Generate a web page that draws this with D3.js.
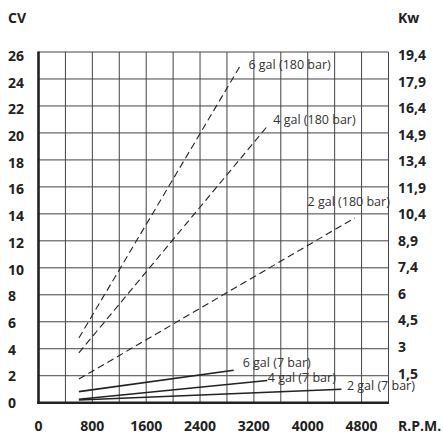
<!DOCTYPE html>
<html>
<head>
<meta charset="utf-8">
<script src="https://cdn.jsdelivr.net/npm/d3@7"></script>
<style>
  body { margin: 0; background: #fff; }
  svg { display: block; font-family: "Open Sans", sans-serif; }
  .lab { font-size: 14px; font-weight: bold; fill: #222; }
  .curve-label { font-size: 12.5px; fill: #333; }
</style>
</head>
<body>
<svg id="chart"></svg>
<script>
// chart values
const rpmTicks = [0, 800, 1600, 2400, 3200, 4000, 4800];
const rpmGrid = [0, 400, 800, 1200, 1600, 2000, 2400, 2800, 3200, 3600, 4000, 4400, 4800, 5200];
const cvTicks = [0, 2, 4, 6, 8, 10, 12, 14, 16, 18, 20, 22, 24, 26];
const kwLabels = ["", "1,5", "3", "4,5", "6", "7,4", "8,9", "10,4", "11,9", "13,4", "14,9", "16,4", "17,9", "19,4"];

const seriesNames = ["6 gal (180 bar)", "4 gal (180 bar)", "2 gal (180 bar)",
                     "6 gal (7 bar)", "4 gal (7 bar)", "2 gal (7 bar)"];
const seriesRpm = [[600, 3000], [600, 3400], [600, 4700], [600, 2900], [600, 3400], [600, 4500]];
const seriesCv = [[4.8, 25], [3.7, 20.5], [1.75, 13.7], [0.82, 2.4], [0.25, 1.65], [0.2, 1.0]];
const seriesDashed = [true, true, true, false, false, false];

// label placement relative to the end of each curve (style only)
const labelDx = [8, 6, 35, 9, 0.5, 5.5];
const labelDy = [4, -2, -12, -3.5, 1.5, 1];
const labelAnchor = ["start", "start", "end", "start", "start", "start"];

const W = 443, H = 435;
const svg = d3.select("#chart").attr("width", W).attr("height", H);

let x = d3.scaleLinear().domain([0, 5200]).range([38.5, 388.5]);
let y = d3.scaleLinear().domain([0, 26]).range([402.7, 52]);
// tick labels in the original sit on a slightly tighter spacing than the grid
let yLeftLab = d3.scaleLinear().domain([0, 26]).range([403, 56]);
let yRightLab = d3.scaleLinear().domain([2, 26]).range([373.5, 55]);

// grid
svg.append("g").selectAll("line").data(rpmGrid).enter().append("line")
  .attr("x1", d => x(d)).attr("x2", d => x(d))
  .attr("y1", y(0)).attr("y2", y(26))
  .attr("stroke", "#444").attr("stroke-width", 1);

svg.append("g").selectAll("line").data(cvTicks).enter().append("line")
  .attr("x1", x(0)).attr("x2", x(5200))
  .attr("y1", d => y(d)).attr("y2", d => y(d))
  .attr("stroke", "#444").attr("stroke-width", 1);

// heavy axes
svg.append("line").attr("x1", x(0)).attr("x2", x(0)).attr("y1", y(26) - 0.5).attr("y2", y(0) + 1.3)
  .attr("stroke", "#222").attr("stroke-width", 2.6);
svg.append("line").attr("x1", x(0) - 1.3).attr("x2", x(5200) + 0.5).attr("y1", y(0)).attr("y2", y(0))
  .attr("stroke", "#222").attr("stroke-width", 2.6);

// left labels
svg.append("g").selectAll("text").data(cvTicks).enter().append("text")
  .attr("class", "lab").attr("x", 8).attr("y", d => yLeftLab(d) + 5)
  .text(d => d);

// right labels
svg.append("g").selectAll("text").data(cvTicks).enter().append("text")
  .attr("class", "lab").attr("x", 398).attr("y", d => yRightLab(d) + 5)
  .text((d, i) => kwLabels[i]);

// bottom labels
svg.append("g").selectAll("text").data(rpmTicks).enter().append("text")
  .attr("class", "lab").attr("x", d => x(d)).attr("y", 430.5)
  .attr("text-anchor", "middle")
  .text(d => d);

svg.append("text").attr("class", "lab").attr("x", 398).attr("y", 430.5).text("R.P.M.");
svg.append("text").attr("class", "lab").attr("x", 8).attr("y", 23).text("CV");
svg.append("text").attr("class", "lab").attr("x", 398).attr("y", 23).text("Kw");

// curves
let line = d3.line().x(d => x(d[0])).y(d => y(d[1]));

seriesNames.forEach(function(name, i) {
  let pts = seriesRpm[i].map((r, j) => [r, seriesCv[i][j]]);
  svg.append("path")
    .attr("d", line(pts))
    .attr("fill", "none")
    .attr("stroke", "#222")
    .attr("stroke-width", seriesDashed[i] ? 1.1 : 1.6)
    .attr("stroke-dasharray", seriesDashed[i] ? "7,4" : null);

  let last = pts[pts.length - 1];
  svg.append("text")
    .attr("class", "curve-label")
    .attr("x", x(last[0]) + labelDx[i])
    .attr("y", y(last[1]) + labelDy[i])
    .attr("text-anchor", labelAnchor[i])
    .text(name);
});
</script>
</body>
</html>
